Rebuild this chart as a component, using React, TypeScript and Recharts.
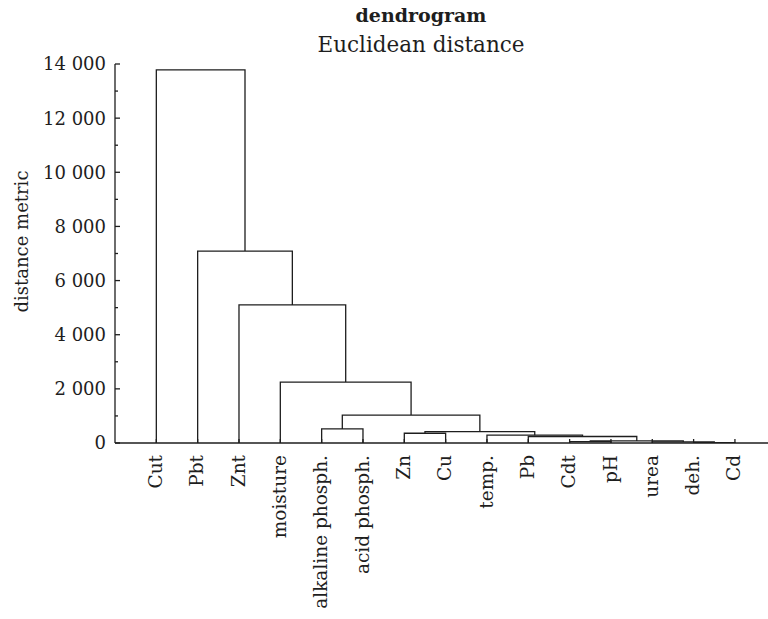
import { LineChart, Line, XAxis, YAxis } from "recharts";

// leaf order along the x axis
const leaves = [
  "Cut", "Pbt", "Znt", "moisture", "alkaline phosph.", "acid phosph.",
  "Zn", "Cu", "temp.", "Pb", "Cdt", "pH", "urea", "deh.", "Cd",
];

// merges in joining order; a child is a leaf name or "#n" (an earlier merge)
const mergeLeft = ["deh.", "urea", "Cdt", "#2", "Pb", "temp.", "Zn", "#6", "alkaline phosph.", "#8", "moisture", "Znt", "Pbt", "Cut"];
const mergeRight = ["Cd", "#0", "pH", "#1", "#3", "#4", "Cu", "#5", "acid phosph.", "#7", "#9", "#10", "#11", "#12"];
const mergeHeight = [12, 40, 50, 75, 240, 290, 360, 420, 520, 1030, 2250, 5100, 7090, 13780];

const yTicks = [0, 1000, 2000, 3000, 4000, 5000, 6000, 7000, 8000, 9000, 10000, 11000, 12000, 13000, 14000];

const ink = "#1e1e1e";
const font = "'DejaVu Serif', serif";

// x position (leaf index) and height of every node
const nodePos: Record<string, { x: number; h: number }> = {};
leaves.forEach((l, i) => (nodePos[l] = { x: i + 1, h: 0 }));
const links = mergeHeight.map((h, i) => {
  const a = nodePos[mergeLeft[i]];
  const b = nodePos[mergeRight[i]];
  nodePos["#" + i] = { x: (a.x + b.x) / 2, h };
  return [
    { x: a.x, y: a.h },
    { x: a.x, y: h },
    { x: b.x, y: h },
    { x: b.x, y: b.h },
  ];
});

function LeafTick({ x, y, payload }: any) {
  return (
    <g>
      <line x1={x} y1={y} x2={x} y2={y - 4} stroke={ink} strokeWidth={1.3} />
      <text
        transform={`translate(${x},${y + 12}) rotate(-90)`}
        textAnchor="end"
        dy="0.3em"
        fontFamily={font}
        fontSize={18.5}
        fill={ink}
      >
        {leaves[payload.value - 1]}
      </text>
    </g>
  );
}

function TopTick({ x, y }: any) {
  return <line x1={x} y1={y} x2={x} y2={y + 4} stroke={ink} strokeWidth={1.3} />;
}

function ValueTick({ x, y, payload }: any) {
  const major = payload.value % 2000 === 0;
  return (
    <g>
      <line x1={x} y1={y} x2={x + (major ? 5 : 3)} y2={y} stroke={ink} strokeWidth={1.3} />
      {major && (
        <text x={x - 9} y={y} dy="0.36em" textAnchor="end" fontFamily={font} fontSize={18} fill={ink}>
          {payload.value.toLocaleString("en-US").replace(",", " ")}
        </text>
      )}
    </g>
  );
}

export default function App() {
  return (
    <div style={{ position: "absolute", left: 0, top: 0, width: 768, height: 619, background: "#fff" }}>
      <svg width={768} height={70} style={{ position: "absolute", left: 0, top: 0 }}>
        <text x={421} y={22} textAnchor="middle" fontFamily={font} fontWeight="bold" fontSize={19} fill={ink}>
          dendrogram
        </text>
        <text x={421} y={52} textAnchor="middle" fontFamily={font} fontSize={21.5} fill={ink}>
          Euclidean distance
        </text>
      </svg>
      <div style={{ position: "absolute", left: 0, top: 0 }}>
        <LineChart width={768} height={619} margin={{ top: 64, right: 0, left: 0, bottom: 0 }}>
          <XAxis
            dataKey="x"
            type="number"
            domain={[0, 15.8]}
            allowDataOverflow
            ticks={leaves.map((_, i) => i + 1)}
            interval={0}
            height={176}
            tickSize={0}
            tickMargin={0}
            tickLine={false}
            tick={<LeafTick />}
            axisLine={{ stroke: ink, strokeWidth: 1.3 }}
          />
          <XAxis
            xAxisId="top"
            orientation="top"
            dataKey="x"
            type="number"
            domain={[0, 15.8]}
            allowDataOverflow
            ticks={leaves.map((_, i) => i + 1)}
            interval={0}
            height={0}
            tickSize={0}
            tickMargin={0}
            tickLine={false}
            tick={<TopTick />}
            axisLine={{ stroke: ink, strokeWidth: 1.3 }}
          />
          <YAxis
            type="number"
            domain={[0, 14000]}
            allowDataOverflow
            ticks={yTicks}
            interval={0}
            width={115}
            tickSize={0}
            tickMargin={0}
            tickLine={false}
            tick={<ValueTick />}
            axisLine={{ stroke: ink, strokeWidth: 1.3 }}
            label={{
              content: ({ viewBox }: any) => (
                <text
                  transform={`translate(28,${viewBox.y + viewBox.height / 2 - 12}) rotate(-90)`}
                  textAnchor="middle"
                  fontFamily={font}
                  fontSize={18}
                  fill={ink}
                >
                  distance metric
                </text>
              ),
            }}
          />
          {links.map((d, i) => (
            <Line
              key={i}
              data={d}
              dataKey="y"
              type="linear"
              stroke={ink}
              strokeWidth={1.3}
              dot={false}
              activeDot={false}
              isAnimationActive={false}
            />
          ))}
        </LineChart>
      </div>
    </div>
  );
}
